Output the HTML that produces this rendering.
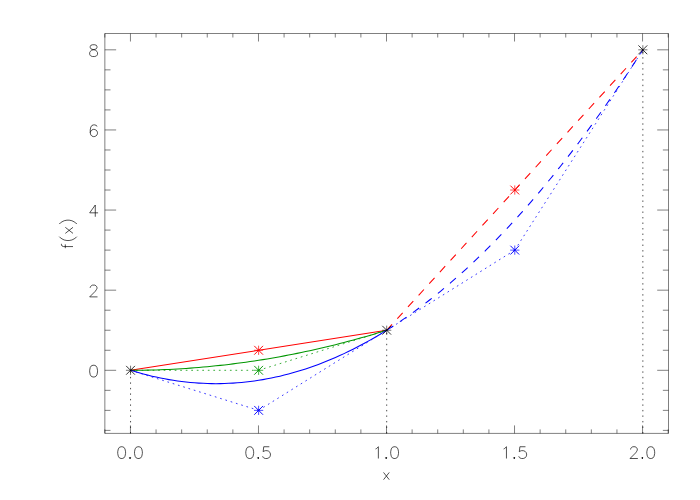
<!DOCTYPE html><html><head><meta charset="utf-8"><title>plot</title>
<style>html,body{margin:0;padding:0;background:#fff;font-family:"Liberation Sans",sans-serif}svg{display:block}</style></head><body>
<svg width="700" height="500" viewBox="0 0 700 500">
<rect width="700" height="500" fill="#fff"/>
<g fill="none" stroke="#000" stroke-width="0.5" stroke-linejoin="round" stroke-linecap="butt">
<path d="M104.85 433.40 H668.50 V33.50 H104.85 Z"/>
<path d="M104.84 433.40 V429.40 M104.84 33.50 V37.50 M130.45 433.40 V425.40 M130.45 33.50 V41.50 M156.06 433.40 V429.40 M156.06 33.50 V37.50 M181.66 433.40 V429.40 M181.66 33.50 V37.50 M207.26 433.40 V429.40 M207.26 33.50 V37.50 M232.87 433.40 V429.40 M232.87 33.50 V37.50 M258.48 433.40 V425.40 M258.48 33.50 V41.50 M284.08 433.40 V429.40 M284.08 33.50 V37.50 M309.68 433.40 V429.40 M309.68 33.50 V37.50 M335.29 433.40 V429.40 M335.29 33.50 V37.50 M360.89 433.40 V429.40 M360.89 33.50 V37.50 M386.50 433.40 V425.40 M386.50 33.50 V41.50 M412.11 433.40 V429.40 M412.11 33.50 V37.50 M437.71 433.40 V429.40 M437.71 33.50 V37.50 M463.31 433.40 V429.40 M463.31 33.50 V37.50 M488.92 433.40 V429.40 M488.92 33.50 V37.50 M514.53 433.40 V425.40 M514.53 33.50 V41.50 M540.13 433.40 V429.40 M540.13 33.50 V37.50 M565.74 433.40 V429.40 M565.74 33.50 V37.50 M591.34 433.40 V429.40 M591.34 33.50 V37.50 M616.94 433.40 V429.40 M616.94 33.50 V37.50 M642.55 433.40 V425.40 M642.55 33.50 V41.50 M668.15 433.40 V429.40 M668.15 33.50 V37.50 M104.85 430.39 H110.50 M668.50 430.39 H662.85 M104.85 410.36 H110.50 M668.50 410.36 H662.85 M104.85 390.33 H110.50 M668.50 390.33 H662.85 M104.85 370.30 H116.15 M668.50 370.30 H657.20 M104.85 350.27 H110.50 M668.50 350.27 H662.85 M104.85 330.24 H110.50 M668.50 330.24 H662.85 M104.85 310.21 H110.50 M668.50 310.21 H662.85 M104.85 290.18 H116.15 M668.50 290.18 H657.20 M104.85 270.15 H110.50 M668.50 270.15 H662.85 M104.85 250.12 H110.50 M668.50 250.12 H662.85 M104.85 230.09 H110.50 M668.50 230.09 H662.85 M104.85 210.06 H116.15 M668.50 210.06 H657.20 M104.85 190.03 H110.50 M668.50 190.03 H662.85 M104.85 170.00 H110.50 M668.50 170.00 H662.85 M104.85 149.97 H110.50 M668.50 149.97 H662.85 M104.85 129.94 H116.15 M668.50 129.94 H657.20 M104.85 109.91 H110.50 M668.50 109.91 H662.85 M104.85 89.88 H110.50 M668.50 89.88 H662.85 M104.85 69.85 H110.50 M668.50 69.85 H662.85 M104.85 49.82 H116.15 M668.50 49.82 H657.20"/>
</g>
<g fill="none" stroke="#000" stroke-width="0.68" stroke-linejoin="round" stroke-linecap="butt">
<path d="M121.09 446.74 L119.41 447.30 L118.29 448.98 L117.73 451.78 L117.73 453.46 L118.29 456.26 L119.41 457.94 L121.09 458.50 L122.21 458.50 L123.89 457.94 L125.01 456.26 L125.57 453.46 L125.57 451.78 L125.01 448.98 L123.89 447.30 L122.21 446.74 L121.09 446.74 M130.05 457.38 L129.49 457.94 L130.05 458.50 L130.61 457.94 L130.05 457.38 M137.89 446.74 L136.21 447.30 L135.09 448.98 L134.53 451.78 L134.53 453.46 L135.09 456.26 L136.21 457.94 L137.89 458.50 L139.01 458.50 L140.69 457.94 L141.81 456.26 L142.37 453.46 L142.37 451.78 L141.81 448.98 L140.69 447.30 L139.01 446.74 L137.89 446.74 M249.16 446.74 L247.49 447.30 L246.37 448.98 L245.81 451.78 L245.81 453.46 L246.37 456.26 L247.49 457.94 L249.16 458.50 L250.28 458.50 L251.97 457.94 L253.09 456.26 L253.65 453.46 L253.65 451.78 L253.09 448.98 L251.97 447.30 L250.28 446.74 L249.16 446.74 M258.12 457.38 L257.56 457.94 L258.12 458.50 L258.69 457.94 L258.12 457.38 M269.32 446.74 L263.73 446.74 L263.17 451.78 L263.73 451.22 L265.40 450.66 L267.08 450.66 L268.76 451.22 L269.88 452.34 L270.44 454.02 L270.44 455.14 L269.88 456.82 L268.76 457.94 L267.08 458.50 L265.40 458.50 L263.73 457.94 L263.17 457.38 L262.61 456.26 M375.56 448.98 L376.68 448.42 L378.36 446.74 L378.36 458.50 M386.20 457.38 L385.64 457.94 L386.20 458.50 L386.76 457.94 L386.20 457.38 M394.04 446.74 L392.36 447.30 L391.24 448.98 L390.68 451.78 L390.68 453.46 L391.24 456.26 L392.36 457.94 L394.04 458.50 L395.16 458.50 L396.84 457.94 L397.96 456.26 L398.52 453.46 L398.52 451.78 L397.96 448.98 L396.84 447.30 L395.16 446.74 L394.04 446.74 M503.63 448.98 L504.75 448.42 L506.44 446.74 L506.44 458.50 M514.27 457.38 L513.72 457.94 L514.27 458.50 L514.84 457.94 L514.27 457.38 M525.48 446.74 L519.88 446.74 L519.31 451.78 L519.88 451.22 L521.55 450.66 L523.24 450.66 L524.91 451.22 L526.03 452.34 L526.60 454.02 L526.60 455.14 L526.03 456.82 L524.91 457.94 L523.24 458.50 L521.55 458.50 L519.88 457.94 L519.31 457.38 L518.75 456.26 M630.59 449.54 L630.59 448.98 L631.15 447.86 L631.71 447.30 L632.83 446.74 L635.07 446.74 L636.19 447.30 L636.75 447.86 L637.31 448.98 L637.31 450.10 L636.75 451.22 L635.63 452.90 L630.03 458.50 L637.87 458.50 M642.35 457.38 L641.79 457.94 L642.35 458.50 L642.91 457.94 L642.35 457.38 M650.19 446.74 L648.51 447.30 L647.39 448.98 L646.83 451.78 L646.83 453.46 L647.39 456.26 L648.51 457.94 L650.19 458.50 L651.31 458.50 L652.99 457.94 L654.11 456.26 L654.67 453.46 L654.67 451.78 L654.11 448.98 L652.99 447.30 L651.31 446.74 L650.19 446.74 M383.54 472.42 L389.26 479.70 M389.26 472.42 L383.54 479.70 M93.04 365.24 L91.36 365.80 L90.24 367.48 L89.68 370.28 L89.68 371.96 L90.24 374.76 L91.36 376.44 L93.04 377.00 L94.16 377.00 L95.84 376.44 L96.96 374.76 L97.52 371.96 L97.52 370.28 L96.96 367.48 L95.84 365.80 L94.16 365.24 L93.04 365.24 M90.24 287.92 L90.24 287.36 L90.80 286.24 L91.36 285.68 L92.48 285.12 L94.72 285.12 L95.84 285.68 L96.40 286.24 L96.96 287.36 L96.96 288.48 L96.40 289.60 L95.28 291.28 L89.68 296.88 L97.52 296.88 M95.28 205.00 L89.68 212.84 L98.08 212.84 M95.28 205.00 L95.28 216.76 M96.96 126.56 L96.40 125.44 L94.72 124.88 L93.60 124.88 L91.92 125.44 L90.80 127.12 L90.24 129.92 L90.24 132.72 L90.80 134.96 L91.92 136.08 L93.60 136.64 L94.16 136.64 L95.84 136.08 L96.96 134.96 L97.52 133.28 L97.52 132.72 L96.96 131.04 L95.84 129.92 L94.16 129.36 L93.60 129.36 L91.92 129.92 L90.80 131.04 L90.24 132.72 M92.48 44.76 L90.80 45.32 L90.24 46.44 L90.24 47.56 L90.80 48.68 L91.92 49.24 L94.16 49.80 L95.84 50.36 L96.96 51.48 L97.52 52.60 L97.52 54.28 L96.96 55.40 L96.40 55.96 L94.72 56.52 L92.48 56.52 L90.80 55.96 L90.24 55.40 L89.68 54.28 L89.68 52.60 L90.24 51.48 L91.36 50.36 L93.04 49.80 L95.28 49.24 L96.40 48.68 L96.96 47.56 L96.96 46.44 L96.40 45.32 L94.72 44.76 L92.48 44.76 M61.45 243.82 L61.45 244.92 L62.00 246.02 L63.65 246.57 L73.00 246.57 M65.30 248.22 L65.30 244.38 M59.25 236.67 L60.35 237.77 L62.00 238.88 L64.20 239.97 L66.95 240.52 L69.15 240.52 L71.90 239.97 L74.10 238.88 L75.75 237.77 L76.85 236.67 M65.30 233.38 L73.00 227.32 M65.30 227.32 L73.00 233.38 M59.25 224.02 L60.35 222.92 L62.00 221.82 L64.20 220.72 L66.95 220.17 L69.15 220.17 L71.90 220.72 L74.10 221.82 L75.75 222.92 L76.85 224.02"/>
<path d="M130.05 457.38 L129.49 457.94 L130.05 458.50 L130.61 457.94 Z M258.12 457.38 L257.56 457.94 L258.12 458.50 L258.69 457.94 Z M386.20 457.38 L385.64 457.94 L386.20 458.50 L386.76 457.94 Z M514.27 457.38 L513.71 457.94 L514.27 458.50 L514.83 457.94 Z M642.35 457.38 L641.79 457.94 L642.35 458.50 L642.91 457.94 Z" fill="#000" stroke-width="0.8"/>
</g>
<g fill="none" stroke-linejoin="round" stroke-linecap="butt">
<path d="M130.55 433.40 V370.30" stroke="#000" stroke-width="0.7" stroke-dasharray="1.4 4.112"/>
<path d="M386.70 433.40 V330.24" stroke="#000" stroke-width="0.7" stroke-dasharray="1.4 4.112"/>
<path d="M642.85 433.40 V49.82" stroke="#000" stroke-width="0.7" stroke-dasharray="1.4 4.112"/>
<path d="M130.55 370.30 L258.62 370.30 M258.62 370.30 L386.70 330.24" stroke="#009600" stroke-width="0.78" stroke-dasharray="1.7 3.82"/>
<path d="M130.55 370.30 L258.62 410.36 M258.62 410.36 L386.70 330.24" stroke="#00f" stroke-width="0.78" stroke-dasharray="1.7 3.82"/>
<path d="M386.70 330.24 L514.77 250.12 M514.77 250.12 L642.85 49.82" stroke="#00f" stroke-width="0.78" stroke-dasharray="1.7 3.82"/>
<path d="M130.55 370.30 L386.70 330.24" stroke="#f00" stroke-width="1.05"/>
<path d="M130.55 370.30 L134.82 370.29 L139.09 370.26 L143.36 370.20 L147.63 370.12 L151.90 370.02 L156.17 369.90 L160.43 369.75 L164.70 369.59 L168.97 369.40 L173.24 369.19 L177.51 368.95 L181.78 368.70 L186.05 368.42 L190.32 368.12 L194.59 367.80 L198.86 367.45 L203.13 367.08 L207.39 366.69 L211.66 366.28 L215.93 365.85 L220.20 365.39 L224.47 364.91 L228.74 364.41 L233.01 363.89 L237.28 363.35 L241.55 362.78 L245.82 362.19 L250.09 361.58 L254.36 360.94 L258.62 360.29 L262.89 359.61 L267.16 358.91 L271.43 358.18 L275.70 357.44 L279.97 356.67 L284.24 355.88 L288.51 355.07 L292.78 354.23 L297.05 353.37 L301.32 352.50 L305.59 351.59 L309.86 350.67 L314.12 349.72 L318.39 348.76 L322.66 347.77 L326.93 346.75 L331.20 345.72 L335.47 344.66 L339.74 343.58 L344.01 342.48 L348.28 341.36 L352.55 340.21 L356.82 339.04 L361.09 337.85 L365.35 336.64 L369.62 335.40 L373.89 334.15 L378.16 332.87 L382.43 331.56 L386.70 330.24" stroke="#009600" stroke-width="1.05"/>
<path d="M130.55 370.30 L134.82 371.60 L139.09 372.84 L143.36 374.01 L147.63 375.11 L151.90 376.14 L156.17 377.11 L160.43 378.01 L164.70 378.85 L168.97 379.61 L173.24 380.31 L177.51 380.95 L181.78 381.52 L186.05 382.02 L190.32 382.45 L194.59 382.82 L198.86 383.12 L203.13 383.35 L207.39 383.52 L211.66 383.62 L215.93 383.65 L220.20 383.62 L224.47 383.52 L228.74 383.35 L233.01 383.12 L237.28 382.82 L241.55 382.45 L245.82 382.02 L250.09 381.52 L254.36 380.95 L258.62 380.31 L262.89 379.61 L267.16 378.85 L271.43 378.01 L275.70 377.11 L279.97 376.14 L284.24 375.11 L288.51 374.01 L292.78 372.84 L297.05 371.60 L301.32 370.30 L305.59 368.93 L309.86 367.50 L314.12 365.99 L318.39 364.42 L322.66 362.79 L326.93 361.09 L331.20 359.32 L335.47 357.48 L339.74 355.58 L344.01 353.61 L348.28 351.57 L352.55 349.47 L356.82 347.30 L361.09 345.06 L365.35 342.76 L369.62 340.39 L373.89 337.95 L378.16 335.45 L382.43 332.88 L386.70 330.24" stroke="#00f" stroke-width="1.05"/>
<path d="M386.70 330.24 L642.85 49.82" stroke="#f00" stroke-width="1.05" stroke-dasharray="7.885 7.885"/>
<path d="M386.70 330.24 L389.26 328.63 L391.82 326.99 L394.38 325.32 L396.95 323.64 L399.51 321.93 L402.07 320.19 L404.63 318.43 L407.19 316.65 L409.75 314.84 L412.31 313.01 L414.88 311.16 L417.44 309.28 L420.00 307.38 L422.56 305.45 L425.12 303.50 L427.68 301.52 L430.25 299.53 L432.81 297.50 L435.37 295.46 L437.93 293.38 L440.49 291.29 L443.05 289.17 L445.61 287.03 L448.18 284.86 L450.74 282.67 L453.30 280.45 L455.86 278.21 L458.42 275.95 L460.98 273.66 L463.55 271.35 L466.11 269.02 L468.67 266.66 L471.23 264.27 L473.79 261.87 L476.35 259.43 L478.91 256.98 L481.48 254.50 L484.04 251.99 L486.60 249.47 L489.16 246.92 L491.72 244.34 L494.28 241.74 L496.84 239.12 L499.41 236.47 L501.97 233.80 L504.53 231.10 L507.09 228.38 L509.65 225.64 L512.21 222.87 L514.77 220.07 L517.34 217.26 L519.90 214.42 L522.46 211.55 L525.02 208.67 L527.58 205.75 L530.14 202.82 L532.71 199.86 L535.27 196.87 L537.83 193.86 L540.39 190.83 L542.95 187.77 L545.51 184.69 L548.07 181.59 L550.64 178.46 L553.20 175.31 L555.76 172.13 L558.32 168.93 L560.88 165.71 L563.44 162.46 L566.00 159.18 L568.57 155.89 L571.13 152.57 L573.69 149.22 L576.25 145.85 L578.81 142.46 L581.37 139.04 L583.94 135.60 L586.50 132.14 L589.06 128.65 L591.62 125.13 L594.18 121.60 L596.74 118.03 L599.30 114.45 L601.87 110.84 L604.43 107.21 L606.99 103.55 L609.55 99.87 L612.11 96.16 L614.67 92.43 L617.23 88.68 L619.80 84.90 L622.36 81.10 L624.92 77.27 L627.48 73.42 L630.04 69.55 L632.60 65.65 L635.17 61.73 L637.73 57.78 L640.29 53.81 L642.85 49.82" stroke="#00f" stroke-width="1.05" stroke-dasharray="7.885 7.885"/>
<path d="M254.03 350.27 H263.23 M258.62 345.67 V354.87" stroke="#f00" stroke-width="0.7"/>
<path d="M254.22 345.87 L263.02 354.67 M254.22 354.67 L263.02 345.87" stroke="#f00" stroke-width="0.95"/>
<path d="M510.17 190.03 H519.38 M514.77 185.43 V194.63" stroke="#f00" stroke-width="0.7"/>
<path d="M510.38 185.63 L519.17 194.43 M510.38 194.43 L519.17 185.63" stroke="#f00" stroke-width="0.95"/>
<path d="M254.03 370.30 H263.23 M258.62 365.70 V374.90" stroke="#009600" stroke-width="0.7"/>
<path d="M254.22 365.90 L263.02 374.70 M254.22 374.70 L263.02 365.90" stroke="#009600" stroke-width="0.95"/>
<path d="M254.03 410.36 H263.23 M258.62 405.76 V414.96" stroke="#00f" stroke-width="0.7"/>
<path d="M254.22 405.96 L263.02 414.76 M254.22 414.76 L263.02 405.96" stroke="#00f" stroke-width="0.95"/>
<path d="M510.17 250.12 H519.38 M514.77 245.52 V254.72" stroke="#00f" stroke-width="0.7"/>
<path d="M510.38 245.72 L519.17 254.52 M510.38 254.52 L519.17 245.72" stroke="#00f" stroke-width="0.95"/>
<path d="M125.95 370.30 H135.15 M130.55 365.70 V374.90" stroke="#000" stroke-width="0.55"/>
<path d="M126.15 365.90 L134.95 374.70 M126.15 374.70 L134.95 365.90" stroke="#000" stroke-width="0.8"/>
<path d="M382.10 330.24 H391.30 M386.70 325.64 V334.84" stroke="#000" stroke-width="0.55"/>
<path d="M382.30 325.84 L391.10 334.64 M382.30 334.64 L391.10 325.84" stroke="#000" stroke-width="0.8"/>
<path d="M638.25 49.82 H647.45 M642.85 45.22 V54.42" stroke="#000" stroke-width="0.55"/>
<path d="M638.45 45.42 L647.25 54.22 M638.45 54.22 L647.25 45.42" stroke="#000" stroke-width="0.8"/>
</g>
</svg></body></html>
